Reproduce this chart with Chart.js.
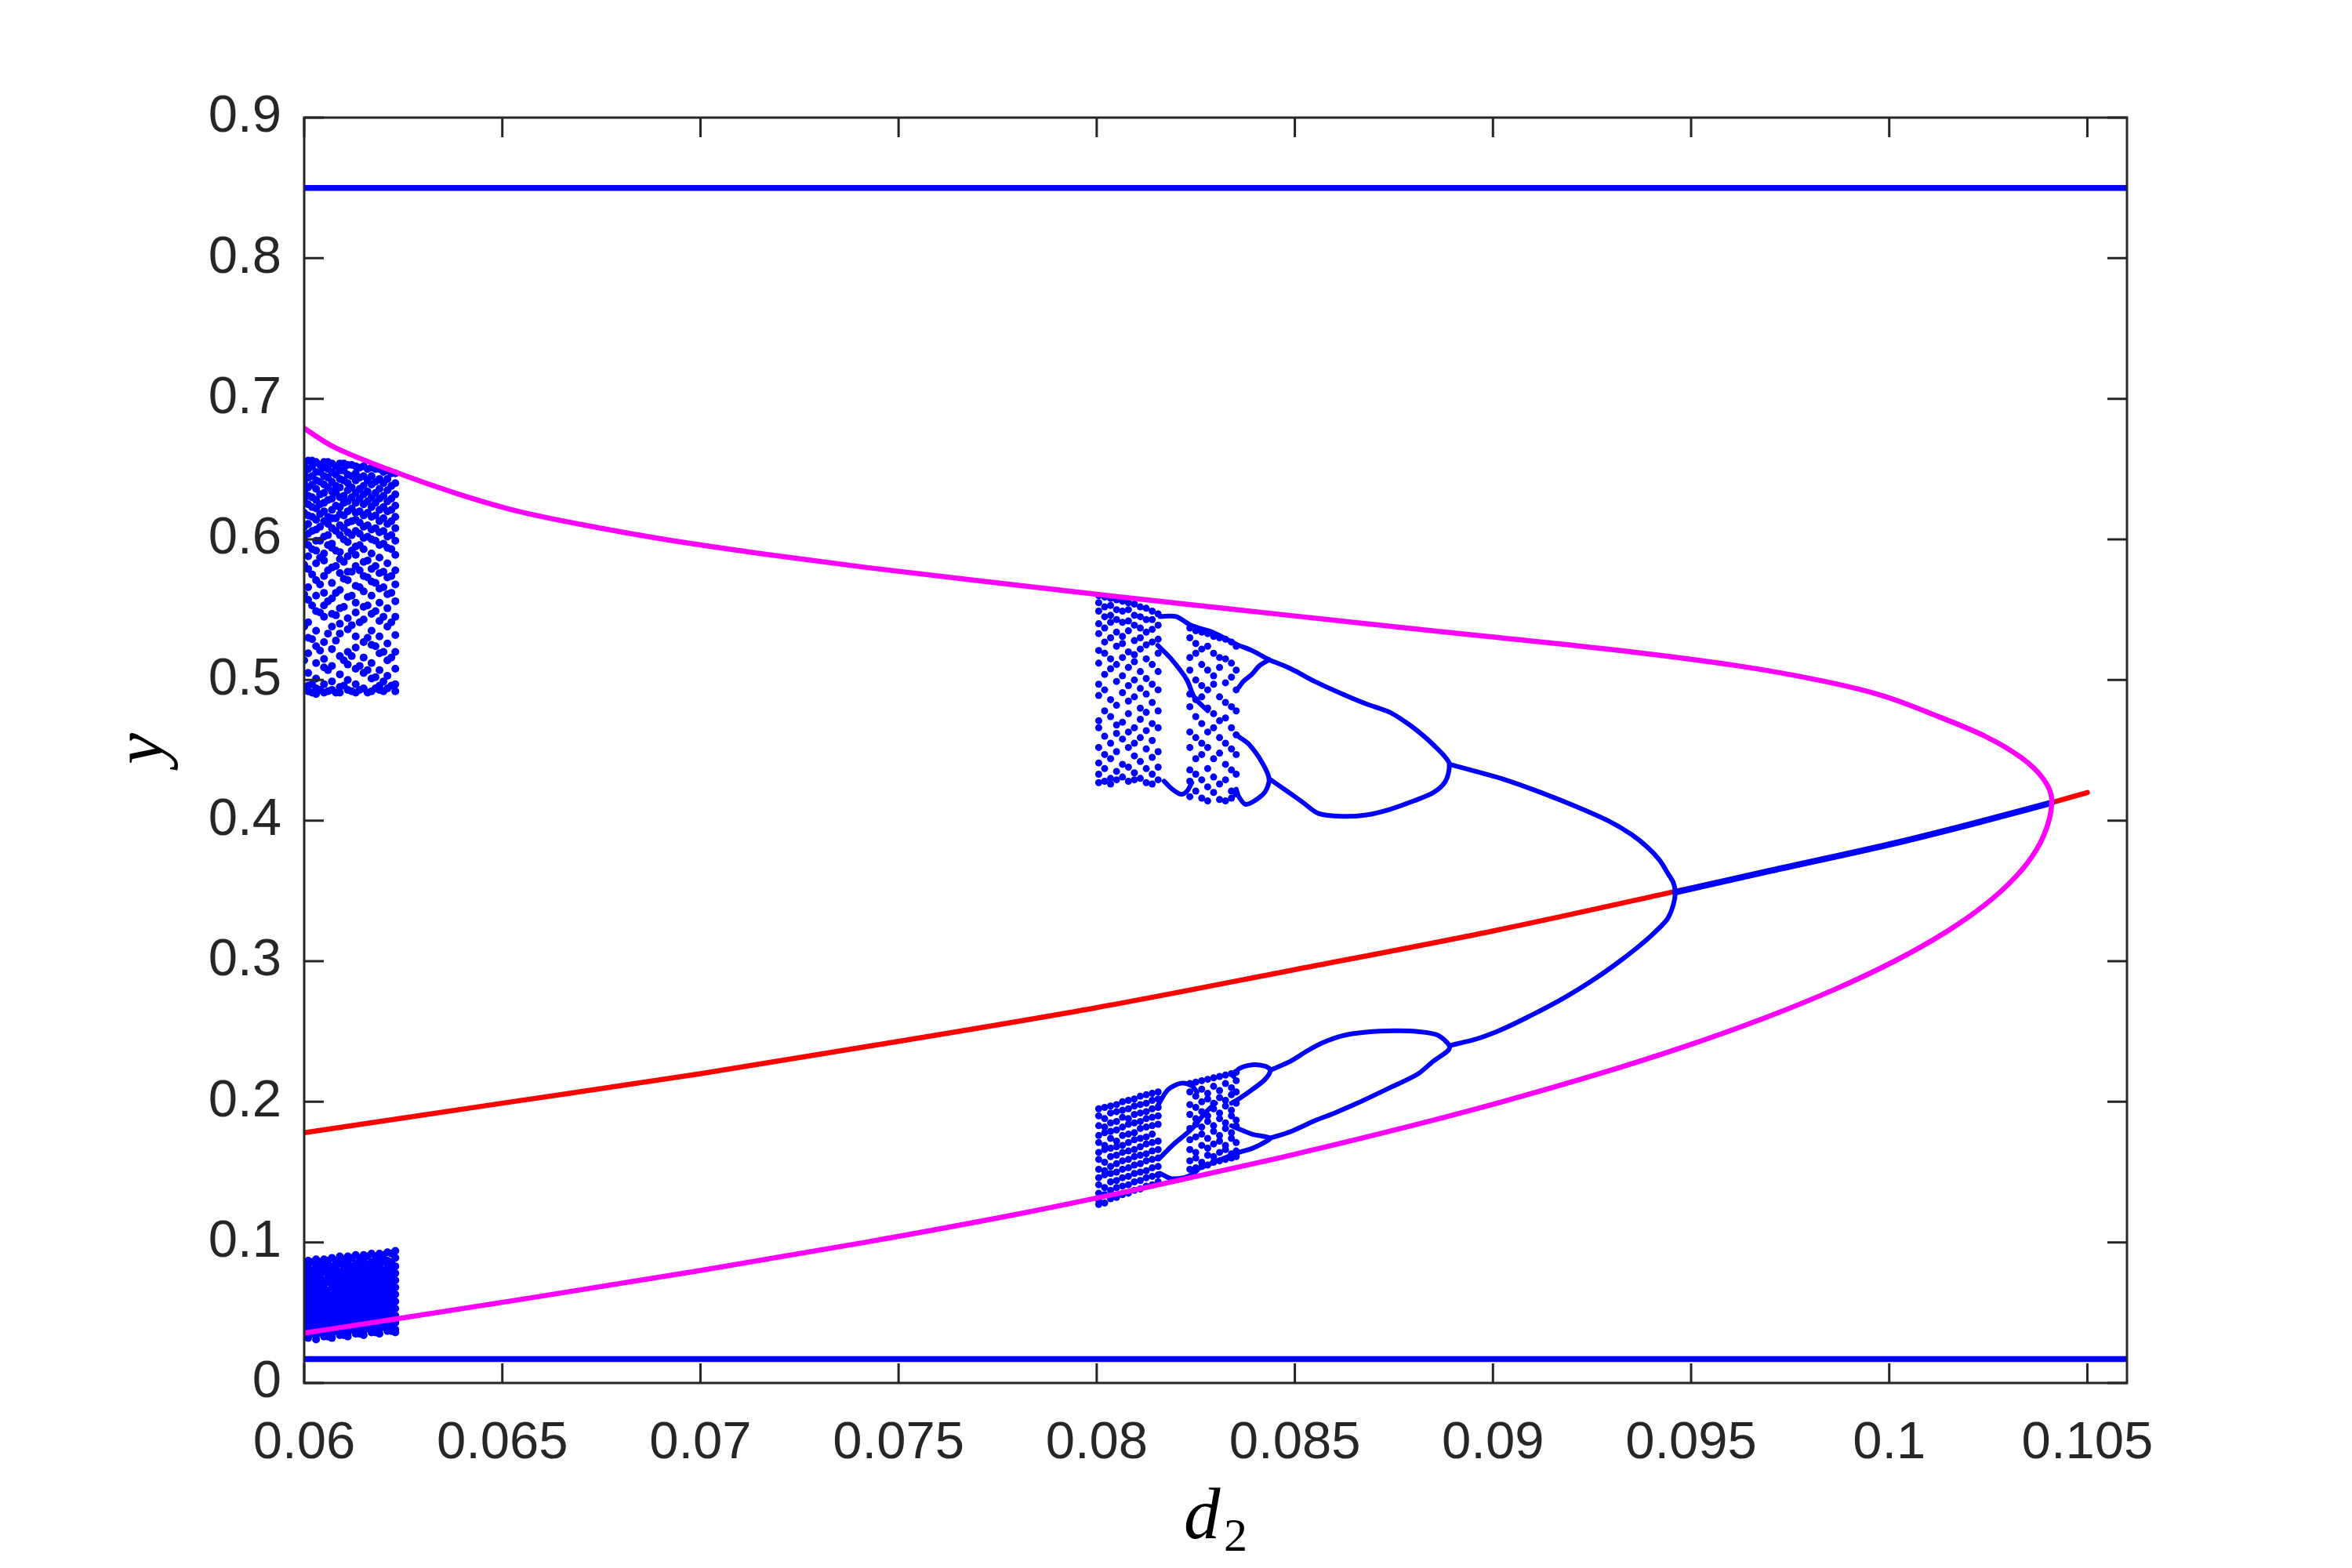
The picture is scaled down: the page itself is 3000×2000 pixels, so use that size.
<!DOCTYPE html>
<html><head><meta charset="utf-8">
<script src="https://cdn.jsdelivr.net/npm/chart.js@4.4.1/dist/chart.umd.min.js"></script>
<style>html,body{margin:0;padding:0;background:#fff;}canvas{display:block;}</style>
</head><body>
<canvas id="c" width="3000" height="2000"></canvas>
<script>
// ---------- axes ----------
const xTickValues = [0.06,0.065,0.07,0.075,0.08,0.085,0.09,0.095,0.1,0.105];
const xTickLabels = ['0.06','0.065','0.07','0.075','0.08','0.085','0.09','0.095','0.1','0.105'];
const yTickValues = [0,0.1,0.2,0.3,0.4,0.5,0.6,0.7,0.8,0.9];
const yTickLabels = ['0','0.1','0.2','0.3','0.4','0.5','0.6','0.7','0.8','0.9'];
const xTitle = 'd', xTitleSub = '2', yTitle = 'y';

// ---------- horizontal branches ----------
const topLineD2 = [0.06, 0.106];
const topLineY = [0.85, 0.85];
const bottomLineD2 = [0.06, 0.106];
const bottomLineY = [0.017, 0.017];

// ---------- red (unstable equilibrium) ----------
const redD2 = [0.06,0.065,0.07,0.075,0.08,0.085,0.09,0.0945,0.1,0.104,0.105];
const redY  = [0.178,0.199,0.220,0.243,0.267,0.294,0.3215,0.349,0.383,0.412,0.420];

// ---------- blue stable equilibrium ----------
const stableD2 = [0.0946,0.097,0.1,0.102,0.1041];
const stableY  = [0.349,0.3643,0.383,0.397,0.4127];

// ---------- magenta curve (upper branch -> vertex -> lower branch) ----------
const magentaD2 = [0.0600,0.0608,0.0621,0.0637,0.0654,0.0671,0.0691,0.0715,0.0742,0.0772,0.0803,0.08355,0.0868,0.0902,0.0935,0.0962,0.0982,0.0997,0.10115,0.10242,0.10332,0.10388,0.1041,
                   0.10403,0.10373,0.10319,0.10241,0.10139,0.10013,0.09863,0.09689,0.09491,0.09269,0.09023,0.08753,0.08459,0.08141,0.07799,0.07415,0.0700,0.0656,0.0622,0.0600];
const magentaY  = [0.679,0.665,0.650,0.634,0.620,0.610,0.600,0.590,0.580,0.570,0.560,0.550,0.540,0.530,0.520,0.510,0.500,0.490,0.475,0.460,0.445,0.430,0.415,
                   0.400,0.380,0.360,0.340,0.320,0.300,0.280,0.260,0.240,0.220,0.200,0.180,0.160,0.140,0.120,0.100,0.080,0.060,0.045,0.0355];

// ---------- period-2 branch ----------
const p2D2 = [0.0889,0.0902,0.0913,0.0921,0.0929,0.0935,0.0939,0.0942,0.0944,0.09455,0.0946,0.09455,0.0944,0.0941,0.0937,0.0932,0.0926,0.0918,0.0910,0.0901,0.0895,0.0889];
const p2Y  = [0.440,0.430,0.419,0.410,0.400,0.390,0.381,0.372,0.363,0.356,0.349,0.340,0.330,0.321,0.311,0.300,0.288,0.274,0.262,0.250,0.244,0.240];

// ---------- period-4 loops ----------
const p4UpperD2 = [0.08435,0.0849,0.0855,0.0862,0.0868,0.0874,0.0879,0.0883,0.0886,0.0888,0.0889,0.0888,0.0885,0.0880,0.0874,0.0868,0.0862,0.0856,0.0852,0.0848,0.08435];
const p4UpperY  = [0.5144,0.508,0.499,0.490,0.483,0.477,0.468,0.459,0.451,0.445,0.440,0.428,0.420,0.414,0.408,0.404,0.403,0.405,0.413,0.421,0.4298];
const p4LowerD2 = [0.08438,0.0849,0.0853,0.0857,0.0862,0.0868,0.0875,0.0881,0.0886,0.0889,0.08887,0.0885,0.0881,0.0874,0.0866,0.0860,0.0855,0.0849,0.08438];
const p4LowerY  = [0.2225,0.229,0.236,0.242,0.247,0.2495,0.2505,0.250,0.2475,0.240,0.2365,0.229,0.2197,0.210,0.1993,0.192,0.1865,0.1789,0.1742];

// ---------- period-8 / band edges ----------
const edgeU1D2 = [0.0816,0.0820,0.0824,0.08293,0.08352,0.08392,0.08435];
const edgeU1Y  = [0.5451,0.5451,0.5386,0.5339,0.5255,0.5209,0.5144];
const edgeU2D2 = [0.08435,0.0841,0.08392,0.0837,0.08359];
const edgeU2Y  = [0.5144,0.510,0.5042,0.499,0.4949];
const edgeU3D2 = [0.08154,0.08187,0.08227,0.08247,0.0828];
const edgeU3Y  = [0.5246,0.5153,0.5004,0.4875,0.4781];
const edgeU4D2 = [0.08359,0.08385,0.08418,0.08435,0.08425,0.08398,0.08375,0.08359,0.08352];
const edgeU4Y  = [0.4596,0.454,0.441,0.4298,0.4205,0.414,0.4116,0.4168,0.4224];
const edgeU5D2 = [0.0817,0.0819,0.08213,0.08228,0.0824];
const edgeU5Y  = [0.428,0.4225,0.4187,0.421,0.427];
const edgeL1D2 = [0.08154,0.0818,0.08213,0.0824,0.08253];
const edgeL1Y  = [0.1974,0.2086,0.2132,0.2114,0.2067];
const edgeL2D2 = [0.0816,0.08193,0.0824,0.08273,0.0830];
const edgeL2Y  = [0.1602,0.1695,0.1807,0.1919,0.199];
const edgeL3D2 = [0.0816,0.08187,0.0822,0.0824,0.08253];
const edgeL3Y  = [0.1491,0.1454,0.146,0.1482,0.151];
const edgeL4D2 = [0.08345,0.08359,0.08392,0.08425,0.08438,0.08425,0.08392,0.08359,0.0834];
const edgeL4Y  = [0.218,0.2235,0.2263,0.2253,0.2225,0.216,0.2086,0.2021,0.199];
const edgeL5D2 = [0.0834,0.08359,0.08392,0.08438,0.08425,0.08392,0.08359,0.08305,0.08253];
const edgeL5Y  = [0.183,0.1807,0.177,0.1742,0.1714,0.1668,0.164,0.158,0.152];

// ---------- chaotic bands (columns of iterates) ----------
const cloudA_d2 = [0.0601,0.0603,0.0605,0.0607,0.0609,0.0611,0.0613,0.0615,0.0617,0.0619,0.0621,0.0623];
const cloudA_y = [
 [0.656,0.650,0.644,0.637,0.631,0.625,0.617,0.611,0.604,0.596,0.588,0.579,0.566,0.557,0.541,0.530,0.519,0.505,0.496,0.492],
 [0.655,0.648,0.642,0.636,0.628,0.622,0.614,0.607,0.599,0.592,0.583,0.571,0.560,0.549,0.535,0.524,0.512,0.501,0.494,0.490],
 [0.655,0.651,0.645,0.639,0.633,0.626,0.620,0.613,0.602,0.590,0.585,0.574,0.562,0.553,0.545,0.527,0.515,0.509,0.497,0.491],
 [0.654,0.648,0.641,0.634,0.629,0.621,0.615,0.608,0.597,0.594,0.580,0.569,0.558,0.547,0.538,0.522,0.510,0.499,0.493],
 [0.654,0.649,0.643,0.637,0.630,0.623,0.618,0.610,0.603,0.591,0.586,0.576,0.564,0.551,0.540,0.533,0.517,0.504,0.495,0.491],
 [0.653,0.646,0.640,0.635,0.627,0.620,0.612,0.605,0.598,0.588,0.577,0.571,0.559,0.544,0.536,0.520,0.511,0.500,0.493],
 [0.652,0.647,0.642,0.633,0.626,0.619,0.614,0.606,0.595,0.589,0.581,0.567,0.555,0.548,0.531,0.523,0.508,0.497,0.491],
 [0.652,0.645,0.638,0.632,0.625,0.617,0.609,0.601,0.593,0.584,0.574,0.563,0.552,0.543,0.527,0.516,0.505,0.494],
 [0.651,0.645,0.639,0.630,0.623,0.616,0.607,0.600,0.590,0.579,0.570,0.560,0.547,0.535,0.525,0.512,0.501,0.492],
 [0.650,0.643,0.636,0.629,0.621,0.613,0.605,0.596,0.587,0.576,0.565,0.555,0.542,0.531,0.519,0.507,0.496,0.493],
 [0.649,0.643,0.635,0.627,0.620,0.611,0.602,0.594,0.583,0.573,0.561,0.551,0.538,0.526,0.514,0.503,0.494],
 [0.647,0.640,0.632,0.624,0.616,0.608,0.599,0.589,0.578,0.568,0.556,0.545,0.532,0.520,0.508,0.497,0.492]
];
const cloudA2_d2 = [0.0600,0.0602,0.0604,0.0606,0.0608,0.0610,0.0612,0.0614,0.0616,0.0618,0.0620,0.0622];
const cloudA2_y = [
 [0.653,0.647,0.640,0.634,0.627,0.619,0.609,0.600,0.582,0.561,0.538,0.514,0.494],
 [0.656,0.652,0.645,0.639,0.630,0.623,0.616,0.606,0.593,0.575,0.553,0.529,0.497,0.491],
 [0.653,0.648,0.641,0.632,0.625,0.618,0.609,0.599,0.587,0.568,0.548,0.521,0.493],
 [0.655,0.650,0.644,0.637,0.628,0.616,0.611,0.603,0.596,0.578,0.556,0.533,0.507,0.492],
 [0.652,0.646,0.638,0.633,0.624,0.615,0.606,0.592,0.581,0.562,0.546,0.528,0.491],
 [0.654,0.649,0.642,0.631,0.626,0.617,0.608,0.600,0.584,0.572,0.552,0.514,0.496],
 [0.653,0.645,0.637,0.630,0.622,0.613,0.603,0.592,0.577,0.560,0.539,0.517,0.492],
 [0.651,0.644,0.636,0.629,0.620,0.612,0.604,0.596,0.578,0.566,0.541,0.510,0.493],
 [0.650,0.642,0.634,0.627,0.619,0.610,0.602,0.585,0.573,0.553,0.530,0.507,0.491],
 [0.650,0.641,0.633,0.626,0.617,0.608,0.599,0.581,0.569,0.549,0.524,0.502,0.494],
 [0.648,0.640,0.631,0.623,0.615,0.606,0.597,0.577,0.566,0.545,0.520,0.499,0.492],
 [0.647,0.638,0.629,0.621,0.613,0.603,0.593,0.574,0.562,0.541,0.516,0.496]
];
const cloudB_d2 = [0.0601,0.0603,0.0605,0.0607,0.0609,0.0611,0.0613,0.0615,0.0617,0.0619,0.0621,0.0623];
const cloudB_y = [
 [0.087,0.082,0.077,0.072,0.067,0.062,0.057,0.052,0.047,0.042,0.037,0.032],
 [0.088,0.083,0.078,0.074,0.069,0.064,0.059,0.054,0.049,0.044,0.039,0.034,0.031],
 [0.088,0.084,0.079,0.073,0.068,0.063,0.058,0.053,0.048,0.043,0.038,0.033],
 [0.089,0.083,0.080,0.075,0.070,0.065,0.060,0.055,0.050,0.045,0.040,0.035,0.032],
 [0.090,0.085,0.079,0.074,0.069,0.064,0.059,0.054,0.049,0.044,0.039,0.034],
 [0.090,0.086,0.081,0.076,0.071,0.066,0.061,0.056,0.051,0.046,0.041,0.036,0.033],
 [0.091,0.085,0.080,0.075,0.070,0.065,0.060,0.055,0.050,0.045,0.040,0.035],
 [0.091,0.087,0.082,0.077,0.072,0.067,0.062,0.057,0.052,0.047,0.042,0.037,0.034],
 [0.092,0.086,0.081,0.076,0.071,0.066,0.061,0.056,0.051,0.046,0.041,0.036],
 [0.092,0.088,0.083,0.078,0.073,0.068,0.063,0.058,0.053,0.048,0.043,0.038,0.035],
 [0.093,0.087,0.082,0.077,0.072,0.067,0.062,0.057,0.052,0.047,0.042,0.037],
 [0.094,0.089,0.083,0.078,0.073,0.068,0.063,0.058,0.053,0.048,0.043,0.038,0.036]
];
const cloudB2_d2 = [0.0600,0.0602,0.0604,0.0606,0.0608,0.0610,0.0612,0.0614,0.0616,0.0618,0.0620,0.0622];
const cloudB2_y = [
 [0.085,0.080,0.074,0.069,0.064,0.059,0.054,0.049,0.044,0.039,0.034],
 [0.086,0.080,0.075,0.070,0.065,0.060,0.055,0.050,0.045,0.040,0.035],
 [0.086,0.081,0.076,0.071,0.066,0.061,0.056,0.051,0.046,0.041,0.036],
 [0.087,0.082,0.077,0.072,0.066,0.061,0.056,0.051,0.046,0.041,0.036,0.033],
 [0.087,0.082,0.077,0.072,0.067,0.062,0.057,0.052,0.047,0.042,0.037],
 [0.088,0.083,0.078,0.073,0.068,0.063,0.058,0.053,0.048,0.043,0.038,0.034],
 [0.089,0.083,0.078,0.073,0.068,0.063,0.058,0.053,0.048,0.043,0.038],
 [0.089,0.084,0.079,0.074,0.069,0.064,0.059,0.054,0.049,0.044,0.039,0.035],
 [0.090,0.084,0.079,0.074,0.069,0.064,0.059,0.054,0.049,0.044,0.039],
 [0.090,0.085,0.080,0.075,0.070,0.065,0.060,0.055,0.050,0.045,0.040,0.036],
 [0.091,0.086,0.080,0.075,0.070,0.065,0.060,0.055,0.050,0.045,0.040],
 [0.092,0.086,0.081,0.076,0.071,0.066,0.061,0.056,0.051,0.046,0.041,0.037]
];
const cloudC_d2 = [0.08005,0.0802,0.08035,0.0805,0.08065,0.0808,0.08095,0.0811,0.08125,0.0814,0.08155,
                   0.08235,0.0825,0.08265,0.0828,0.08295,0.0831,0.08325,0.0834,0.08352];
const cloudC_y = [
 [0.560,0.555,0.549,0.540,0.533,0.521,0.512,0.497,0.489,0.471,0.466,0.452,0.441,0.433,0.427],
 [0.559,0.552,0.545,0.537,0.527,0.519,0.504,0.493,0.478,0.460,0.447,0.437,0.428],
 [0.558,0.553,0.546,0.541,0.530,0.515,0.508,0.486,0.474,0.455,0.444,0.430,0.426],
 [0.557,0.550,0.543,0.534,0.524,0.511,0.499,0.482,0.468,0.462,0.449,0.435,0.429],
 [0.556,0.549,0.541,0.531,0.526,0.516,0.503,0.491,0.470,0.458,0.440,0.431],
 [0.555,0.550,0.542,0.535,0.520,0.509,0.496,0.485,0.476,0.463,0.452,0.438,0.428],
 [0.554,0.546,0.539,0.528,0.518,0.513,0.500,0.488,0.466,0.455,0.446,0.434,0.429],
 [0.552,0.545,0.537,0.530,0.522,0.506,0.494,0.480,0.472,0.459,0.442,0.430],
 [0.551,0.543,0.534,0.525,0.515,0.501,0.490,0.477,0.464,0.451,0.437,0.427],
 [0.549,0.543,0.536,0.527,0.511,0.497,0.484,0.469,0.457,0.445,0.433,0.426],
 [0.547,0.539,0.529,0.519,0.506,0.493,0.478,0.466,0.449,0.438,0.429],
 [0.537,0.530,0.516,0.507,0.490,0.481,0.463,0.452,0.436,0.428,0.417],
 [0.535,0.526,0.519,0.500,0.486,0.474,0.459,0.444,0.433,0.421],
 [0.534,0.522,0.511,0.496,0.488,0.469,0.455,0.447,0.429,0.416],
 [0.533,0.524,0.507,0.493,0.480,0.463,0.452,0.437,0.424,0.414],
 [0.531,0.519,0.503,0.497,0.476,0.466,0.444,0.431,0.420],
 [0.530,0.516,0.509,0.488,0.471,0.459,0.448,0.426,0.415],
 [0.529,0.515,0.498,0.484,0.473,0.455,0.440,0.429,0.414],
 [0.527,0.512,0.502,0.481,0.466,0.451,0.436,0.421,0.416],
 [0.524,0.507,0.493,0.478,0.461,0.447,0.433,0.419]
];
const cloudD_d2 = [0.08005,0.0802,0.08035,0.0805,0.08065,0.0808,0.08095,0.0811,0.08125,0.0814,0.08155,
                   0.08235,0.0825,0.08265,0.0828,0.08295,0.0831,0.08325,0.0834,0.08352];
const cloudD_y = [
 [0.195,0.190,0.183,0.176,0.171,0.164,0.159,0.152,0.146,0.141,0.135,0.130,0.127],
 [0.196,0.188,0.182,0.178,0.169,0.166,0.157,0.151,0.148,0.139,0.134,0.128],
 [0.197,0.192,0.185,0.179,0.174,0.167,0.161,0.154,0.149,0.143,0.137,0.131],
 [0.198,0.193,0.186,0.180,0.172,0.168,0.162,0.156,0.150,0.144,0.139,0.132],
 [0.200,0.194,0.189,0.182,0.176,0.169,0.164,0.158,0.152,0.146,0.140,0.134],
 [0.201,0.195,0.188,0.184,0.177,0.171,0.165,0.159,0.153,0.147,0.141,0.135],
 [0.202,0.197,0.191,0.185,0.178,0.173,0.166,0.161,0.155,0.149,0.143,0.137],
 [0.204,0.198,0.192,0.186,0.181,0.174,0.168,0.162,0.156,0.150,0.144,0.138],
 [0.205,0.199,0.193,0.188,0.182,0.175,0.170,0.163,0.158,0.151,0.146,0.140],
 [0.206,0.201,0.195,0.189,0.183,0.177,0.171,0.165,0.159,0.153,0.147,0.141],
 [0.207,0.202,0.196,0.190,0.184,0.172,0.166,0.160,0.154,0.148,0.143],
 [0.213,0.207,0.198,0.191,0.181,0.173,0.166,0.158,0.152],
 [0.214,0.204,0.196,0.188,0.184,0.175,0.164,0.160,0.153],
 [0.215,0.209,0.200,0.193,0.182,0.177,0.169,0.157,0.154],
 [0.216,0.206,0.202,0.190,0.186,0.174,0.167,0.162,0.155],
 [0.217,0.211,0.199,0.195,0.183,0.179,0.170,0.161,0.157],
 [0.218,0.208,0.203,0.192,0.188,0.176,0.172,0.164,0.158],
 [0.219,0.213,0.201,0.197,0.185,0.181,0.169,0.166,0.159],
 [0.220,0.210,0.205,0.194,0.190,0.178,0.174,0.163,0.160],
 [0.221,0.215,0.207,0.199,0.187,0.183,0.171,0.165,0.161]
];

// ---------- helpers ----------
const BLUE = '#0000ff', MAGENTA = '#ff00ff', RED = '#ff0000', AXIS = '#262626';
const pts = (xs, ys) => xs.map((x, i) => ({x: x, y: ys[i]}));
const cols = (xs, yss) => xs.flatMap((x, i) => yss[i].map(y => ({x: x, y: y})));
const lineDs = (data, color, width, order, tension, extra) => Object.assign({
  data: data, showLine: true, borderColor: color, backgroundColor: color,
  borderWidth: width, pointRadius: 0, pointHoverRadius: 0, fill: false,
  tension: tension, order: order, borderJoinStyle: 'round', borderCapStyle: 'round'
}, extra || {});
const dotDs = (data, r, order) => ({
  data: data, showLine: false, pointRadius: r, pointHoverRadius: r,
  pointBackgroundColor: BLUE, pointBorderWidth: 0, borderColor: BLUE,
  backgroundColor: BLUE, order: order
});
const alongY = {indexAxis: 'y', cubicInterpolationMode: 'monotone'};
const alongX = {cubicInterpolationMode: 'monotone'};

const AREA = {left: 388, top: 150, right: 2713, bottom: 1764};

const axesPlugin = {
  id: 'matlabAxes',
  afterDraw(chart) {
    const ctx = chart.ctx, ca = chart.chartArea;
    const xs = chart.scales.x, ys = chart.scales.y;
    ctx.save();
    ctx.strokeStyle = AXIS;
    ctx.lineWidth = 3;
    ctx.strokeRect(ca.left, ca.top, ca.right - ca.left, ca.bottom - ca.top);
    const tl = 25;
    ctx.beginPath();
    xTickValues.forEach(v => {
      const px = xs.getPixelForValue(v);
      ctx.moveTo(px, ca.bottom); ctx.lineTo(px, ca.bottom - tl);
      ctx.moveTo(px, ca.top); ctx.lineTo(px, ca.top + tl);
    });
    yTickValues.forEach(v => {
      const py = ys.getPixelForValue(v);
      ctx.moveTo(ca.left, py); ctx.lineTo(ca.left + tl, py);
      ctx.moveTo(ca.right, py); ctx.lineTo(ca.right - tl, py);
    });
    ctx.stroke();
    // axis titles
    ctx.fillStyle = '#000000';
    ctx.textBaseline = 'alphabetic';
    ctx.textAlign = 'left';
    ctx.font = 'italic 93px "Liberation Serif", "Times New Roman", serif';
    ctx.fillText(xTitle, 1510, 1962);
    ctx.font = '60px "Liberation Serif", "Times New Roman", serif';
    ctx.fillText(xTitleSub, 1561, 1978);
    ctx.translate(208, 955);
    ctx.rotate(-Math.PI / 2);
    ctx.textAlign = 'center';
    ctx.font = 'italic 90px "Liberation Serif", "Times New Roman", serif';
    ctx.fillText(yTitle, 0, 0);
    ctx.restore();
  }
};

new Chart(document.getElementById('c'), {
  type: 'scatter',
  data: {
    datasets: [
      lineDs(pts(magentaD2, magentaY), MAGENTA, 6.5, 1, 0, alongY),
      lineDs(pts(stableD2, stableY), BLUE, 8, 3, 0, alongX),
      lineDs(pts(p2D2, p2Y), BLUE, 6, 4, 0, alongY),
      lineDs(pts(p4UpperD2, p4UpperY), BLUE, 6, 4, 0.3),
      lineDs(pts(p4LowerD2, p4LowerY), BLUE, 6, 4, 0.3),
      lineDs(pts(edgeU1D2, edgeU1Y), BLUE, 6, 4, 0.3),
      lineDs(pts(edgeU2D2, edgeU2Y), BLUE, 6, 4, 0.3),
      lineDs(pts(edgeU3D2, edgeU3Y), BLUE, 6, 4, 0.3),
      lineDs(pts(edgeU4D2, edgeU4Y), BLUE, 6, 4, 0.3),
      lineDs(pts(edgeU5D2, edgeU5Y), BLUE, 6, 4, 0.3),
      lineDs(pts(edgeL1D2, edgeL1Y), BLUE, 6, 4, 0.3),
      lineDs(pts(edgeL2D2, edgeL2Y), BLUE, 6, 4, 0.3),
      lineDs(pts(edgeL3D2, edgeL3Y), BLUE, 6, 4, 0.3),
      lineDs(pts(edgeL4D2, edgeL4Y), BLUE, 6, 4, 0.3),
      lineDs(pts(edgeL5D2, edgeL5Y), BLUE, 6, 4, 0.3),
      lineDs(pts(topLineD2, topLineY), BLUE, 7.5, 4, 0),
      lineDs(pts(bottomLineD2, bottomLineY), BLUE, 7.5, 4, 0),
      dotDs(cols(cloudA_d2, cloudA_y), 5, 6),
      dotDs(cols(cloudA2_d2, cloudA2_y), 5, 6),
      dotDs(cols(cloudB_d2, cloudB_y), 5, 6),
      dotDs(cols(cloudB2_d2, cloudB2_y), 5, 6),
      dotDs(cols(cloudC_d2, cloudC_y), 4.5, 6),
      dotDs(cols(cloudD_d2, cloudD_y), 4.5, 6),
      lineDs(pts(redD2, redY), RED, 6.5, 10, 0, alongX)
    ]
  },
  options: {
    responsive: false,
    devicePixelRatio: 1,
    animation: false,
    events: [],
    layout: {padding: {left: 0, top: AREA.top, right: 3000 - AREA.right, bottom: 0}},
    plugins: {legend: {display: false}, tooltip: {enabled: false}},
    scales: {
      x: {
        type: 'linear', min: 0.06, max: 0.106,
        grid: {display: false, drawTicks: false},
        border: {display: false},
        afterBuildTicks: s => { s.ticks = xTickValues.map(v => ({value: v})); },
        afterFit: s => { s.height = 2000 - AREA.bottom; },
        ticks: {
          callback: (v, i) => xTickLabels[i],
          padding: 37, maxRotation: 0, autoSkip: false,
          color: AXIS, font: {family: '"Liberation Sans", Arial, sans-serif', size: 67}
        }
      },
      y: {
        type: 'linear', min: 0, max: 0.9,
        grid: {display: false, drawTicks: false},
        border: {display: false},
        afterBuildTicks: s => { s.ticks = yTickValues.map(v => ({value: v})); },
        afterFit: s => { s.width = AREA.left; },
        ticks: {
          callback: (v, i) => yTickLabels[i],
          padding: 29, autoSkip: false,
          color: AXIS, font: {family: '"Liberation Sans", Arial, sans-serif', size: 67}
        }
      }
    }
  },
  plugins: [axesPlugin]
});
</script>
</body></html>
